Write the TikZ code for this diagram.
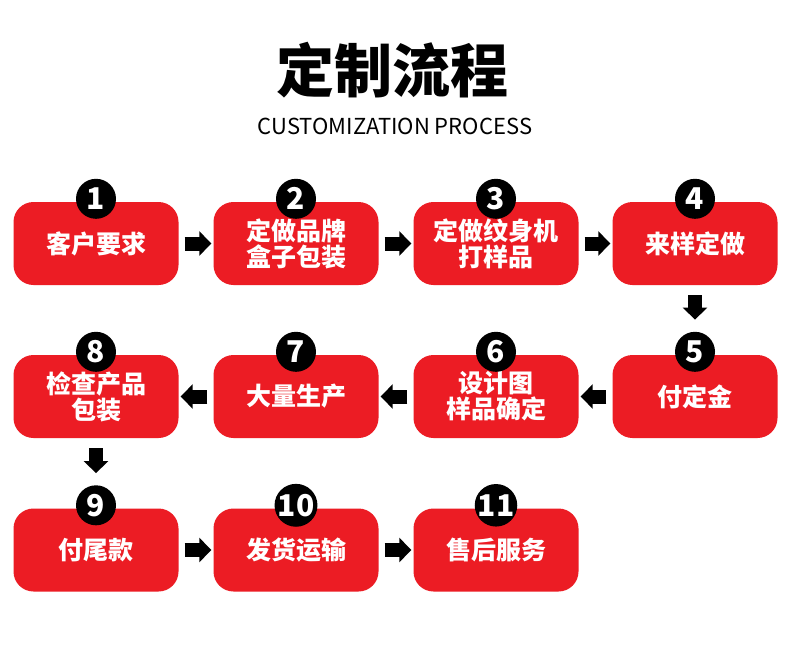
\documentclass[tikz,border=0pt]{standalone}
\usepackage{fontspec}
\newfontfamily\cjk{Noto Sans CJK SC}
\usetikzlibrary{arrows.meta}
\definecolor{stepred}{RGB}{236,28,36}

\begin{document}
\begin{tikzpicture}[
    x=1pt, y=-1pt,
    box/.style={rectangle, rounded corners=20pt, fill=stepred, minimum width=165pt, minimum height=83pt, text=white, align=center, font=\cjk\bfseries\fontsize{25}{26}\selectfont},
    num/.style={circle, fill=black, minimum size=40pt, inner sep=0pt, text=white, font=\cjk\bfseries\fontsize{30}{30}\selectfont},
    arrow/.style={-{Triangle[width=24pt,length=12pt]}, line width=14pt, shorten <=6pt, shorten >=2pt},
    down/.style={arrow, shorten <=10pt, shorten >=12pt}
]
    \fill[white] (0,0) rectangle (790,653);
    \useasboundingbox (0,0) rectangle (790,653);

    % Title
    \node (title) at (392,70) {\cjk\bfseries\fontsize{58}{58}\selectfont 定制流程};
    \node (subtitle) at (395,126) {\cjk\fontsize{22}{22}\selectfont CUSTOMIZATION PROCESS};

    % Nodes
    \node[box] (b1) at (96,243.5) {客户要求};
    \node[box] (b2) at (296,243.5) {定做品牌\\盒子包装};
    \node[box] (b3) at (496,243.5) {定做纹身机\\打样品};
    \node[box] (b4) at (695,243.5) {来样定做};
    \node[box] (b5) at (695,396.5) {付定金};
    \node[box] (b6) at (496,396.5) {设计图\\样品确定};
    \node[box] (b7) at (296,396.5) {大量生产};
    \node[box] (b8) at (96,396.5) {检查产品\\包装};
    \node[box] (b9) at (96,550) {付尾款};
    \node[box] (b10) at (296,550) {发货运输};
    \node[box] (b11) at (496,550) {售后服务};

    % Numbers
    \node[num] (n1) at ([yshift=3pt]b1.north) {1};
    \node[num] (n2) at ([yshift=3pt]b2.north) {2};
    \node[num] (n3) at ([yshift=3pt]b3.north) {3};
    \node[num] (n4) at ([yshift=3pt]b4.north) {4};
    \node[num] (n5) at ([yshift=3pt]b5.north) {5};
    \node[num] (n6) at ([yshift=3pt]b6.north) {6};
    \node[num] (n7) at ([yshift=3pt]b7.north) {7};
    \node[num] (n8) at ([yshift=3pt]b8.north) {8};
    \node[num] (n9) at ([yshift=3pt]b9.north) {9};
    \node[num] (n10) at ([yshift=3pt]b10.north) {10};
    \node[num] (n11) at ([yshift=3pt]b11.north) {11};

    % Arrows
    \draw[arrow] (b1) -- (b2);
    \draw[arrow] (b2) -- (b3);
    \draw[arrow] (b3) -- (b4);
    \draw[down] (b4) -- (n5);
    \draw[arrow] (b5) -- (b6);
    \draw[arrow] (b6) -- (b7);
    \draw[arrow] (b7) -- (b8);
    \draw[down] (b8) -- (n9);
    \draw[arrow] (b9) -- (b10);
    \draw[arrow] (b10) -- (b11);
\end{tikzpicture}
\end{document}
